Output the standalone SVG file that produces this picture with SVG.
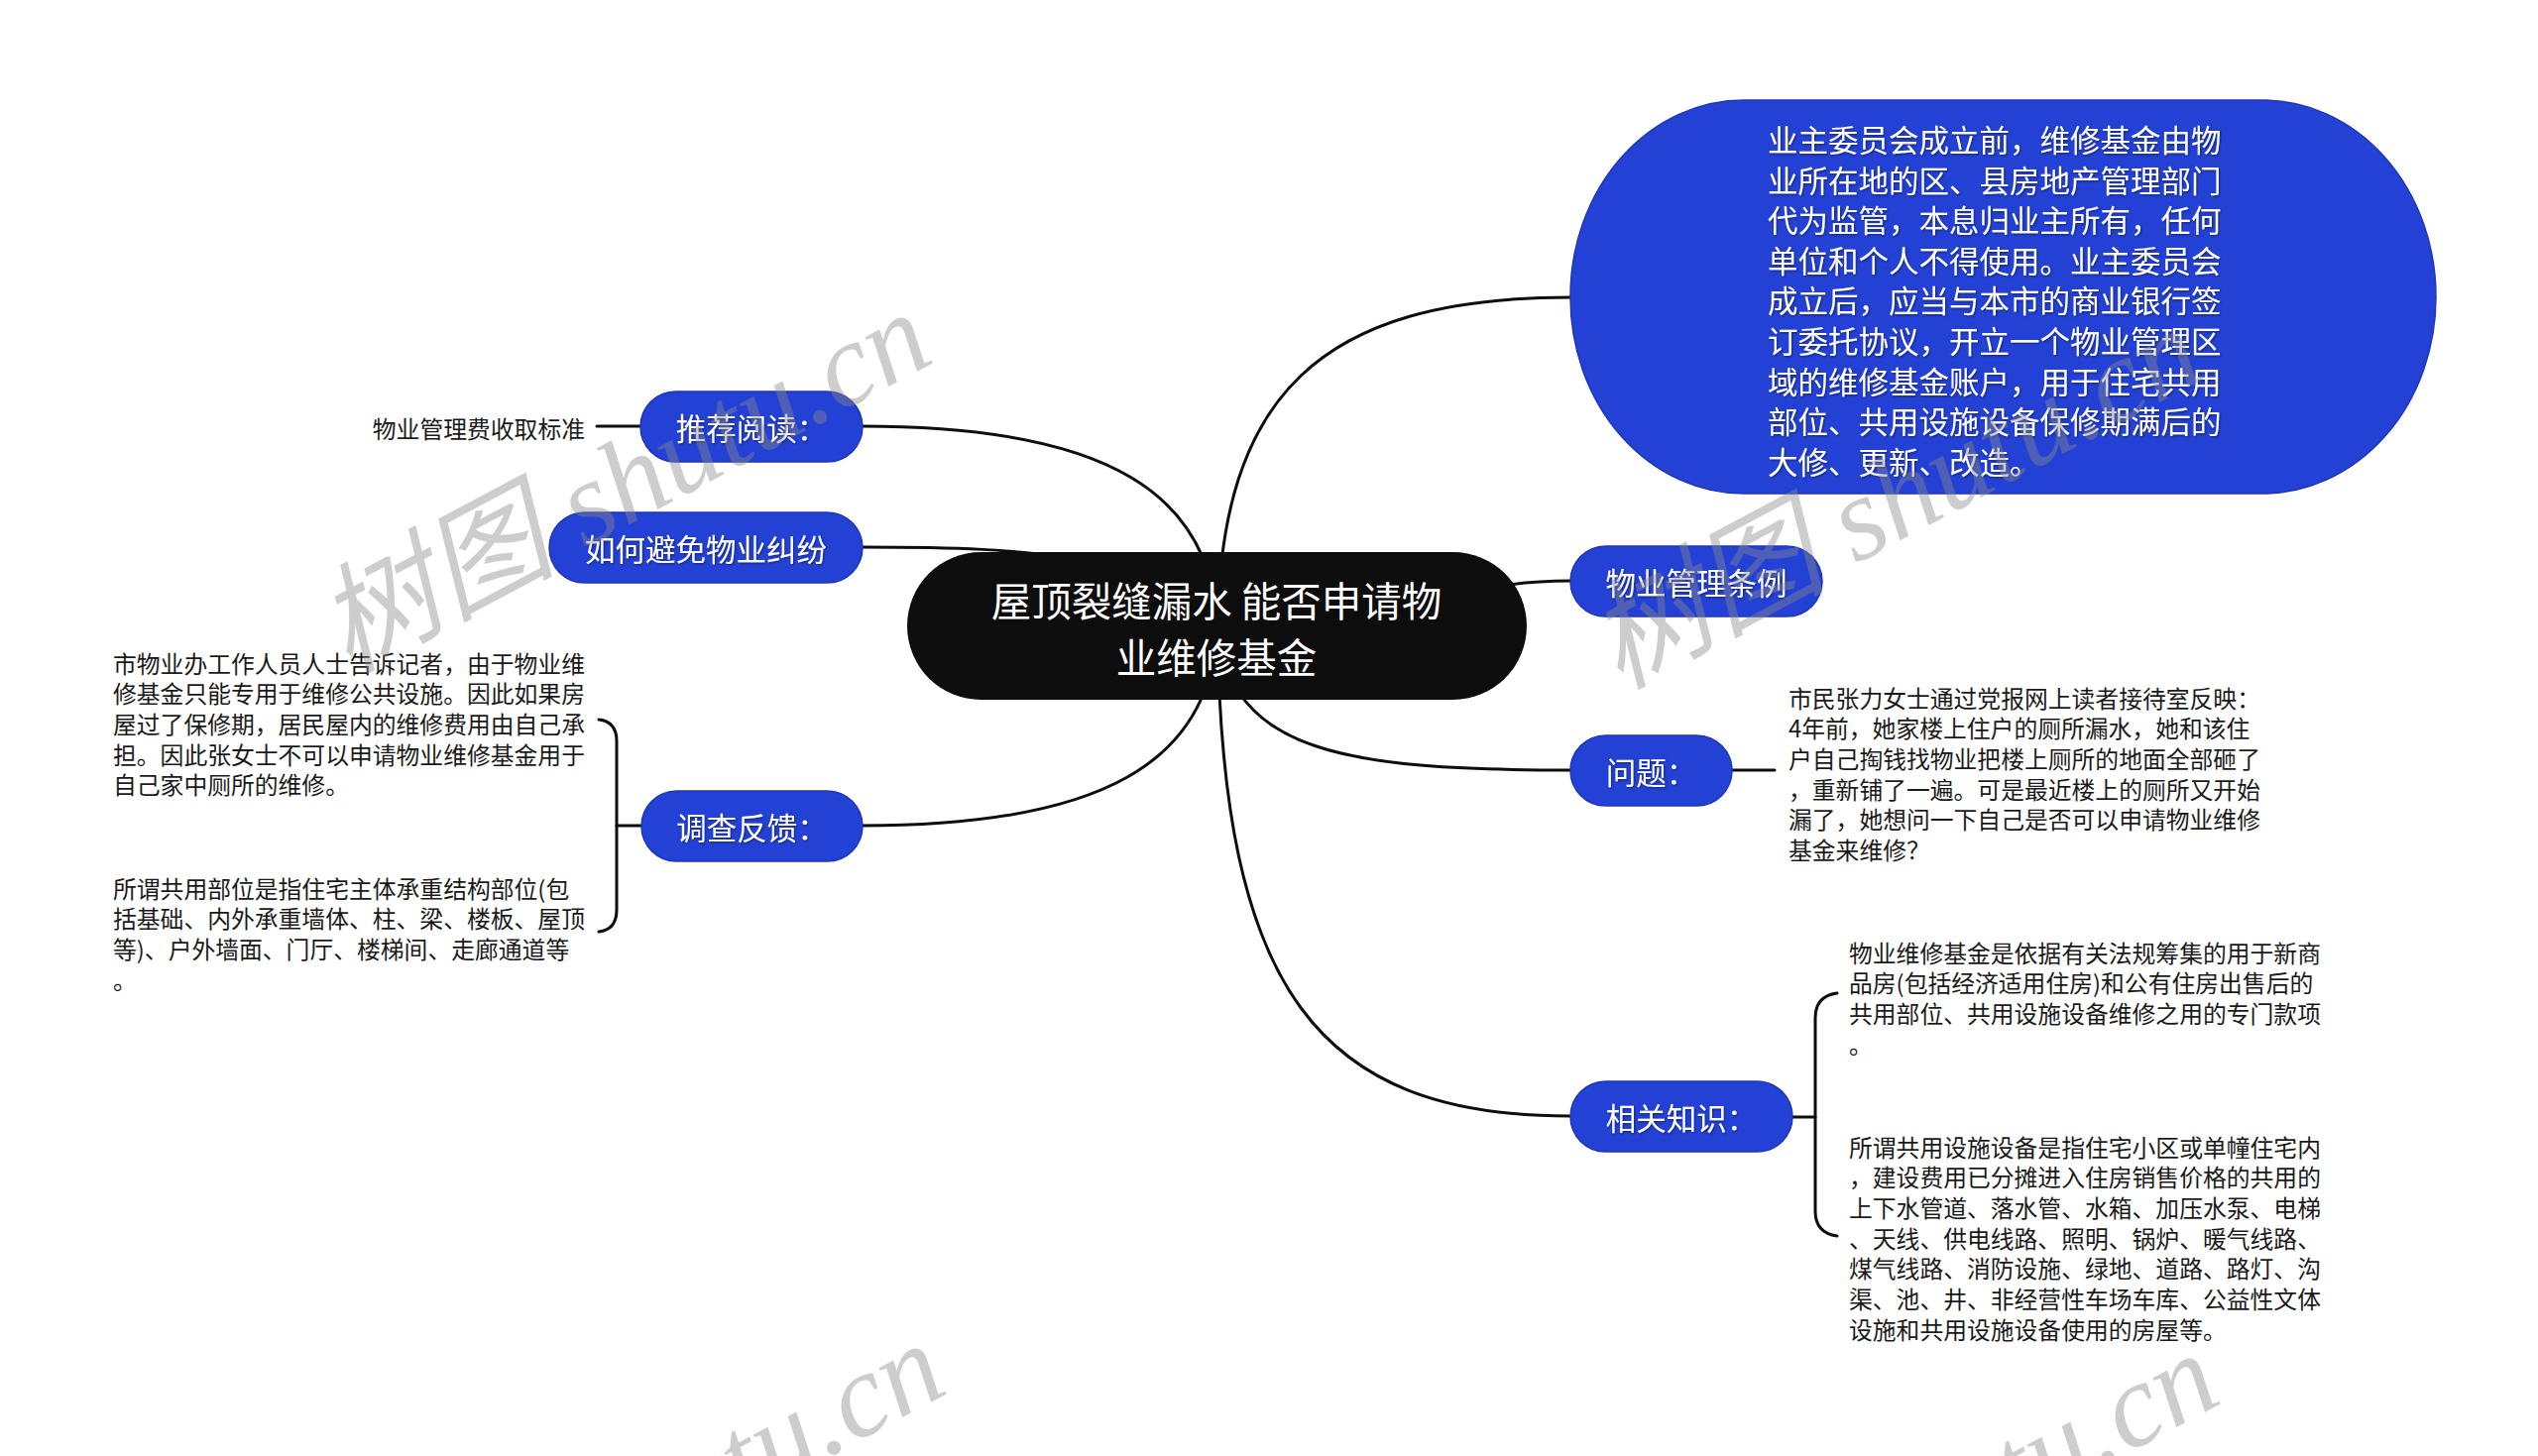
<svg xmlns="http://www.w3.org/2000/svg" width="2560" height="1469" viewBox="0 0 2560 1469">
<defs>
<style>
.edge{fill:none;stroke:#0d0d0d;stroke-width:3;stroke-linecap:round}
.pill{fill:#2441d6;stroke:#1e36b8;stroke-width:1.5}
.lbl{font-family:"Noto Sans CJK SC","Noto Sans",sans-serif;font-size:30.5px;fill:#ffffff;text-anchor:middle;dominant-baseline:central}
.big{font-family:"Noto Sans CJK SC","Noto Sans",sans-serif;font-size:30.5px;fill:#ffffff;dominant-baseline:central}
.root{font-family:"Noto Sans CJK SC","Noto Sans",sans-serif;font-size:40.5px;fill:#ffffff;text-anchor:middle;dominant-baseline:central}
.note{font-family:"Noto Sans CJK SC","Noto Sans",sans-serif;font-size:23.8px;fill:#1a1a1a;dominant-baseline:central}
.wm{font-family:"Liberation Serif","Noto Sans CJK SC",serif;font-style:italic;font-size:120px;fill:#8a8a8a;opacity:0.42}
</style>
<filter id="sh" x="-5%" y="-20%" width="110%" height="140%">
<feDropShadow dx="1" dy="1.2" stdDeviation="0.8" flood-color="#000" flood-opacity="0.45"/>
</filter>
</defs>
<rect width="2560" height="1469" fill="#ffffff"/>

<g id="connectors">
<path class="edge" d="M1228 632 C1232 400 1330 300 1584 300"/>
<path class="edge" d="M1228 632 C1222 500 1120 430 870 430"/>
<path class="edge" d="M1228 632 C1150 560 1050 552 870 552"/>
<path class="edge" d="M1228 632 C1450 625 1460 586 1584 586"/>
<path class="edge" d="M1228 632 C1240 760 1360 777 1584 777"/>
<path class="edge" d="M1228 632 C1232 1000 1330 1126 1584 1126"/>
<path class="edge" d="M1228 632 C1222 770 1110 833 870 833"/>
<path class="edge" d="M646 430 L602 430"/>
<path class="edge" d="M1747 777 L1790 777"/>
<path class="edge" d="M648 833 L622 833"/>
<path class="edge" d="M604 726 Q622 728 622 748 L622 918 Q622 938 604 940"/>
<path class="edge" d="M1808 1127 L1831 1127"/>
<path class="edge" d="M1853 1002 Q1831 1005 1831 1027 L1831 1222 Q1831 1244 1853 1247"/>
</g>

<g id="root">
<rect x="915" y="557" width="625" height="149" rx="74.5" ry="74.5" fill="#0d0d0d"/>
<text class="root" x="1227" y="604">屋顶裂缝漏水 能否申请物</text>
<text class="root" x="1227" y="661">业维修基金</text>
</g>

<g id="node-fund-custody">
<rect class="pill" x="1584" y="101" width="873" height="397" rx="175" ry="198"/>
<g class="big" filter="url(#sh)">
<text x="1783" y="140">业主委员会成立前，维修基金由物</text>
<text x="1783" y="180.6">业所在地的区、县房地产管理部门</text>
<text x="1783" y="221.2">代为监管，本息归业主所有，任何</text>
<text x="1783" y="261.8">单位和个人不得使用。业主委员会</text>
<text x="1783" y="302.4">成立后，应当与本市的商业银行签</text>
<text x="1783" y="343">订委托协议，开立一个物业管理区</text>
<text x="1783" y="383.6">域的维修基金账户，用于住宅共用</text>
<text x="1783" y="424.2">部位、共用设施设备保修期满后的</text>
<text x="1783" y="464.8">大修、更新、改造。</text>
</g>
</g>

<g id="node-recommend">
<rect class="pill" x="646" y="395" width="224" height="71" rx="35.5"/>
<text class="lbl" x="758" y="431" filter="url(#sh)">推荐阅读：</text>
</g>
<g id="node-recommend-item">
<text class="note" x="590" y="431" text-anchor="end">物业管理费收取标准</text>
</g>

<g id="node-avoid">
<rect class="pill" x="554" y="517" width="316" height="71" rx="35.5"/>
<text class="lbl" x="712" y="553" filter="url(#sh)">如何避免物业纠纷</text>
</g>

<g id="node-survey">
<rect class="pill" x="647" y="798" width="223" height="71" rx="35.5"/>
<text class="lbl" x="758.5" y="834" filter="url(#sh)">调查反馈：</text>
</g>
<g id="node-survey-text1">
<text class="note" x="114" y="668">市物业办工作人员人士告诉记者，由于物业维</text>
<text class="note" x="114" y="698.7">修基金只能专用于维修公共设施。因此如果房</text>
<text class="note" x="114" y="729.4">屋过了保修期，居民屋内的维修费用由自己承</text>
<text class="note" x="114" y="760.1">担。因此张女士不可以申请物业维修基金用于</text>
<text class="note" x="114" y="790.8">自己家中厕所的维修。</text>
</g>
<g id="node-survey-text2">
<text class="note" x="114" y="895">所谓共用部位是指住宅主体承重结构部位(包</text>
<text class="note" x="114" y="925.7">括基础、内外承重墙体、柱、梁、楼板、屋顶</text>
<text class="note" x="114" y="956.4">等)、户外墙面、门厅、楼梯间、走廊通道等</text>
<text class="note" x="114" y="987.1">。</text>
</g>

<g id="node-regulation">
<rect class="pill" x="1584" y="551" width="254" height="71" rx="35.5"/>
<text class="lbl" x="1711" y="587" filter="url(#sh)">物业管理条例</text>
</g>

<g id="node-question">
<rect class="pill" x="1584" y="742" width="163" height="71" rx="35.5"/>
<text class="lbl" x="1665.5" y="778" filter="url(#sh)">问题：</text>
</g>
<g id="node-question-text">
<text class="note" x="1804" y="703">市民张力女士通过党报网上读者接待室反映：</text>
<text class="note" x="1804" y="733.7">4年前，她家楼上住户的厕所漏水，她和该住</text>
<text class="note" x="1804" y="764.4">户自己掏钱找物业把楼上厕所的地面全部砸了</text>
<text class="note" x="1804" y="795.1">，重新铺了一遍。可是最近楼上的厕所又开始</text>
<text class="note" x="1804" y="825.8">漏了，她想问一下自己是否可以申请物业维修</text>
<text class="note" x="1804" y="856.5">基金来维修？</text>
</g>

<g id="node-knowledge">
<rect class="pill" x="1584" y="1091" width="224" height="71" rx="35.5"/>
<text class="lbl" x="1696" y="1127" filter="url(#sh)">相关知识：</text>
</g>
<g id="node-knowledge-text1">
<text class="note" x="1865" y="960">物业维修基金是依据有关法规筹集的用于新商</text>
<text class="note" x="1865" y="990.7">品房(包括经济适用住房)和公有住房出售后的</text>
<text class="note" x="1865" y="1021.4">共用部位、共用设施设备维修之用的专门款项</text>
<text class="note" x="1865" y="1052.1">。</text>
</g>
<g id="node-knowledge-text2">
<text class="note" x="1865" y="1156">所谓共用设施设备是指住宅小区或单幢住宅内</text>
<text class="note" x="1865" y="1186.7">，建设费用已分摊进入住房销售价格的共用的</text>
<text class="note" x="1865" y="1217.4">上下水管道、落水管、水箱、加压水泵、电梯</text>
<text class="note" x="1865" y="1248.1">、天线、供电线路、照明、锅炉、暖气线路、</text>
<text class="note" x="1865" y="1278.8">煤气线路、消防设施、绿地、道路、路灯、沟</text>
<text class="note" x="1865" y="1309.5">渠、池、井、非经营性车场车库、公益性文体</text>
<text class="note" x="1865" y="1340.2">设施和共用设施设备使用的房屋等。</text>
</g>

<g id="watermark">
<text class="wm" x="351" y="680" transform="rotate(-28 351 680)">树图 shutu.cn</text>
<text class="wm" x="1633" y="696" transform="rotate(-28 1633 696)">树图 shutu.cn</text>
<text class="wm" x="365" y="1720" transform="rotate(-28 365 1720)">树图 shutu.cn</text>
<text class="wm" x="1650" y="1730" transform="rotate(-28 1650 1730)">树图 shutu.cn</text>
</g>
</svg>
